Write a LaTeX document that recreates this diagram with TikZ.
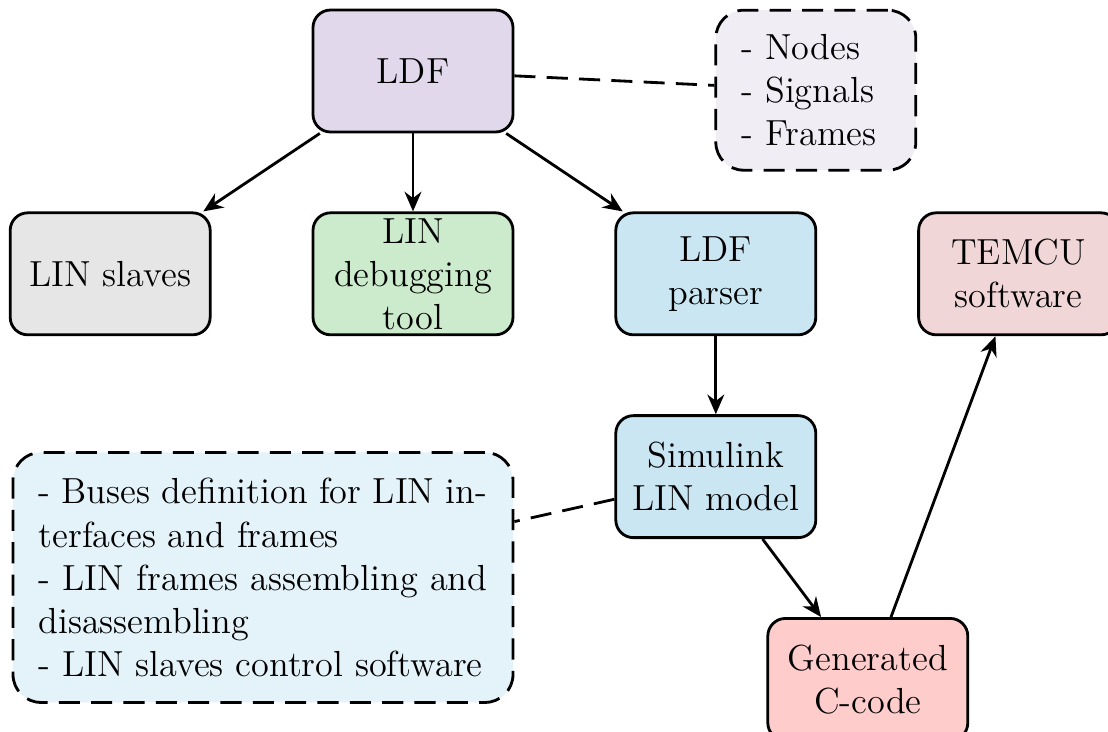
\documentclass[tikz,border=0pt]{standalone}
\usepackage{tikz}
\usetikzlibrary{arrows.meta, positioning}
\definecolor{ldfcol}{RGB}{226,216,236}
\definecolor{notecol}{RGB}{240,237,245}
\definecolor{slavecol}{RGB}{230,230,230}
\definecolor{debugcol}{RGB}{204,234,204}
\definecolor{parsecol}{RGB}{202,230,242}
\definecolor{temcucol}{RGB}{240,214,214}
\definecolor{gencol}{RGB}{255,204,204}
\definecolor{simnotecol}{RGB}{228,242,249}
\tikzset{
  block/.style = {rectangle, draw, line width=1pt, align=center,
    minimum width=2.5cm, minimum height=1.525cm, rounded corners=0.22cm},
  noteblock/.style = {rectangle, draw, line width=1pt, dash pattern=on 7.5pt off 4pt,
    rounded corners=0.35cm, inner xsep=0.32cm},
  arrow/.style = {line width=1pt,-{Stealth[length=7pt,width=6pt]}},
  line/.style  = {line width=1pt, dash pattern=on 7.5pt off 4pt},
}
\begin{document}
\begin{tikzpicture}[node distance=0.975cm and 1.25cm,
  font=\fontsize{12.9}{15.3}\selectfont]
  \useasboundingbox (-5.1625,0.8875) rectangle (8.6875,-8.25);

  % Top row
  \node[block, fill=ldfcol] (ldf) {LDF};
  \node[noteblock, fill=notecol, text width=1.86cm, minimum height=2cm,
    right=2.5cm of ldf, yshift=-0.24cm] (ldfnote) {- Nodes\\- Signals\\- Frames};

  % Middle row
  \node[block, fill=debugcol, inner ysep=0pt, below=of ldf] (debug) {LIN\\debugging\\tool};
  \node[block, fill=slavecol, left=of debug] (slaves) {LIN slaves};
  \node[block, fill=parsecol, right=of debug] (parser) {LDF\\parser};
  \node[block, fill=temcucol, right=of parser] (temcu) {TEMCU\\software};

  % Lower part
  \node[block, fill=parsecol, below=of parser] (simulink) {Simulink\\LIN model};
  \node[block, fill=gencol, below=of simulink, xshift=1.9cm] (gencode) {Generated\\C-code};
  \node[noteblock, fill=simnotecol, text width=5.61cm, align=justify, minimum height=3.125cm,
    left=1.25cm of simulink, yshift=-1.26cm] (simnote)
    {- Buses definition for LIN in\-ter\-faces and frames\\
     - LIN frames assembling and disassembling\\
     - LIN slaves control software};

  % Arrows
  \draw[arrow] (ldf) -- (slaves);
  \draw[arrow] (ldf) -- (debug);
  \draw[arrow] (ldf) -- (parser);
  \draw[arrow] (parser) -- (simulink);
  \draw[arrow] (simulink) -- (gencode);
  \draw[arrow] (gencode) -- (temcu);

  % Dashed note links
  \draw[line] (ldf) -- (ldfnote);
  \draw[line] (simulink) -- (simnote);

\end{tikzpicture}
\end{document}
